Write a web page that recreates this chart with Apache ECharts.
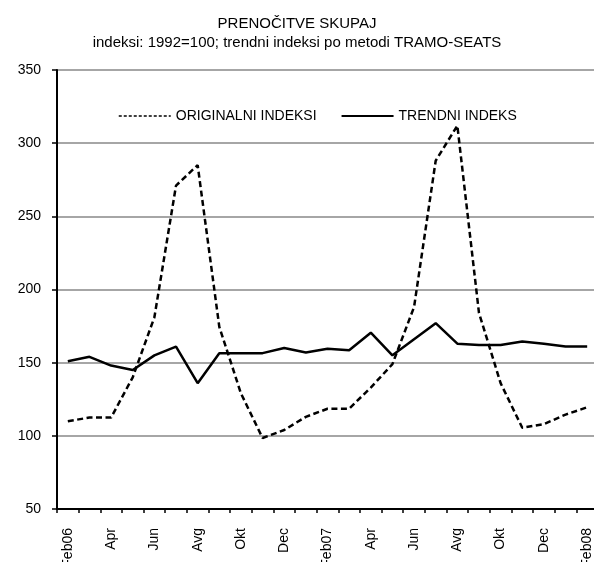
<!DOCTYPE html>
<html>
<head>
<meta charset="utf-8">
<script src="https://cdn.jsdelivr.net/npm/echarts@6/dist/echarts.min.js"></script>
<style>
  html, body { margin: 0; padding: 0; background: #fff; }
  #chart { width: 594px; height: 562px; }
</style>
</head>
<body>
<div id="chart"></div>
<script>
// months Feb06 .. Feb08
var months = ['Feb06','Mar','Apr','Maj','Jun','Jul','Avg','Sep','Okt','Nov','Dec','Jan07',
              'Feb07','Mar','Apr','Maj','Jun','Jul','Avg','Sep','Okt','Nov','Dec','Jan08','Feb08'];

var originalni = [110, 112.5, 112.5, 140, 181, 271, 285, 174.5, 129, 98.5, 104, 113,
                  118.5, 118.5, 133, 149, 188, 288, 312, 184, 136, 105.5, 108, 114.5, 119.5];

var trendni = [151, 154, 148, 145, 155, 161, 136, 156.5, 156.5, 156.5, 160, 157,
               159.5, 158.5, 170.5, 155, 166, 177, 163, 162, 162, 164.5, 163, 161, 161];

var yTicks = { min: 50, max: 350, step: 50 };

var font = 'Liberation Sans, Arial, sans-serif';

var chart = echarts.init(document.getElementById('chart'));

// legend: line only, no symbol
var noSymbol = { color: 'rgba(0,0,0,0)', borderWidth: 0, opacity: 0 };

var option = {
  animation: false,
  backgroundColor: '#fff',
  title: {
    text: 'PRENOČITVE SKUPAJ',
    subtext: 'indeksi: 1992=100; trendni indeksi po metodi TRAMO-SEATS',
    left: 'center',
    top: 11,
    itemGap: 4,
    textStyle: { fontFamily: font, fontSize: 15, fontWeight: 'normal', color: '#000' },
    subtextStyle: { fontFamily: font, fontSize: 15, color: '#000' }
  },
  legend: {
    left: 113,
    top: 104,
    itemWidth: 52,
    itemHeight: 10,
    itemGap: 24,
    textStyle: { fontFamily: font, fontSize: 14, color: '#000' },
    data: [
      { name: 'ORIGINALNI INDEKSI', itemStyle: noSymbol, lineStyle: { width: 1.5, type: [3, 2] } },
      { name: 'TRENDNI INDEKS', itemStyle: noSymbol, lineStyle: { width: 2 } }
    ]
  },
  grid: { left: 57, right: -4, top: 70, bottom: 53, outerBoundsMode: 'none' },
  xAxis: {
    type: 'category',
    data: months,
    boundaryGap: true,
    axisLine: { lineStyle: { color: '#000', width: 2 } },
    axisTick: { show: true, interval: 0, length: 4, lineStyle: { color: '#000', width: 1.5 } },
    axisLabel: {
      interval: 1,
      rotate: 90,
      margin: 19,
      fontFamily: font,
      fontSize: 14,
      color: '#000'
    }
  },
  yAxis: {
    type: 'value',
    min: yTicks.min,
    max: yTicks.max,
    interval: yTicks.step,
    axisLine: { show: true, lineStyle: { color: '#000', width: 2 } },
    axisTick: { show: true, length: 5, lineStyle: { color: '#000', width: 1.5 } },
    axisLabel: { fontFamily: font, fontSize: 14, color: '#000', margin: 16 },
    splitLine: { lineStyle: { color: '#888', width: 1.5 } }
  },
  series: [
    {
      name: 'ORIGINALNI INDEKSI',
      type: 'line',
      data: originalni,
      symbol: 'none',
      color: '#000',
      lineStyle: { color: '#000', width: 2.5, type: [6, 3.5] }
    },
    {
      name: 'TRENDNI INDEKS',
      type: 'line',
      data: trendni,
      symbol: 'none',
      color: '#000',
      lineStyle: { color: '#000', width: 2.5 }
    }
  ]
};

chart.setOption(option);
</script>
</body>
</html>
